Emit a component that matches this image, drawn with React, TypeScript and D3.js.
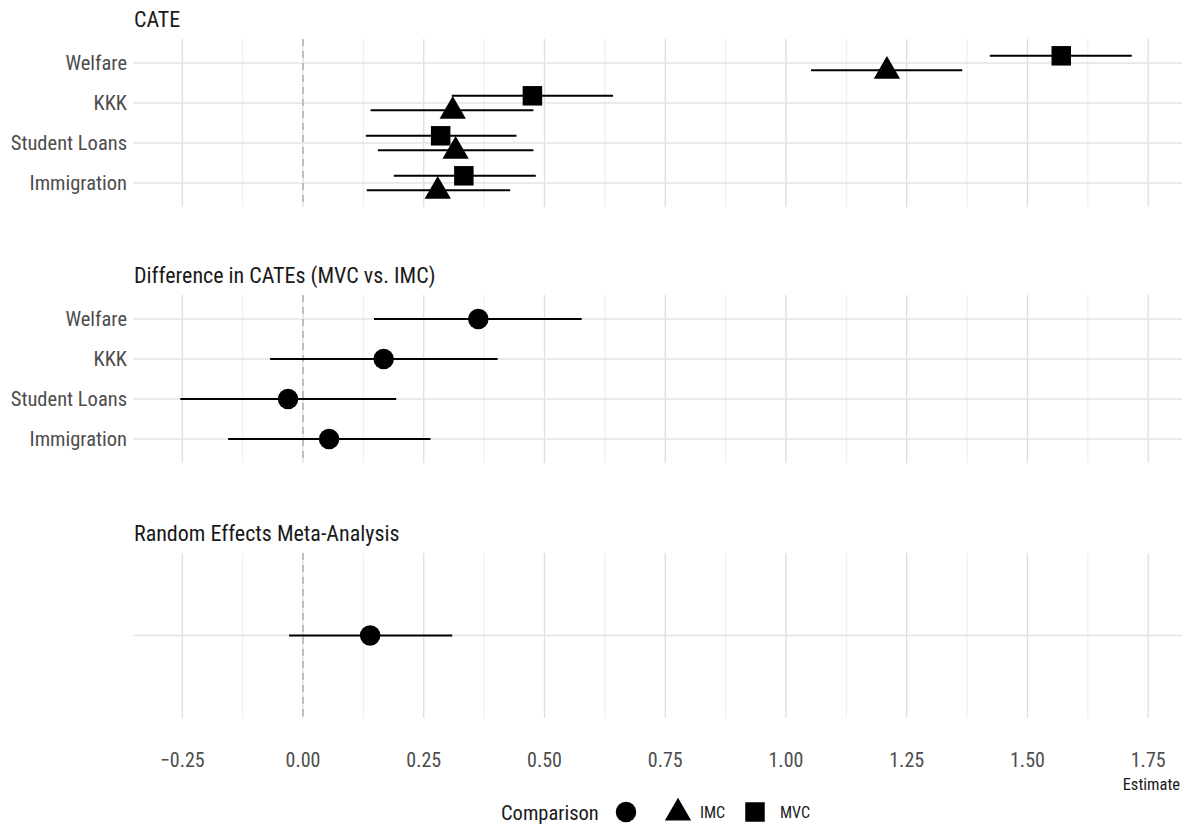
import React from "react";
import * as d3 from "d3";

const categories = ["Welfare", "KKK", "Student Loans", "Immigration"];
const comparisons = ["MVC", "IMC"];

// CATE panel
const cateMVC = [1.570, 0.475, 0.285, 0.333];
const cateMVCLow = [1.422, 0.308, 0.130, 0.188];
const cateMVCHigh = [1.716, 0.642, 0.442, 0.482];
const cateIMC = [1.209, 0.310, 0.316, 0.279];
const cateIMCLow = [1.052, 0.140, 0.155, 0.132];
const cateIMCHigh = [1.365, 0.477, 0.477, 0.429];

// Difference panel
const diffEst = [0.363, 0.167, -0.031, 0.054];
const diffLow = [0.147, -0.068, -0.254, -0.155];
const diffHigh = [0.577, 0.403, 0.193, 0.264];

// Meta-analysis
const metaEst = [0.139];
const metaLow = [-0.029];
const metaHigh = [0.309];

const xTicks = [-0.25, 0, 0.25, 0.5, 0.75, 1, 1.25, 1.5, 1.75];
const xMinor = [-0.375, -0.125, 0.125, 0.375, 0.625, 0.875, 1.125, 1.375, 1.625];

const FONT = "'Roboto Condensed', 'Liberation Sans Narrow', 'DejaVu Sans Condensed', Roboto, sans-serif";

const W = 1182;
const H = 824;
const left = 133;
const right = 1182;

const x = d3.scaleLinear().domain([-0.352, 1.82]).range([left, right]);

const symTri = d3.symbol().type(d3.symbolTriangle).size(300)();
const symSq = d3.symbol().type(d3.symbolSquare).size(380)();
const symCirc = d3.symbol().type(d3.symbolCircle).size(330)();

type Pt = { cat: string; est: number; lo: number; hi: number; shape: string };

function Panel({ title, top, bottom, cats, points, dodge }: { title: string; top: number; bottom: number; cats: string[]; points: Pt[]; dodge: boolean }) {
  const y = d3.scalePoint<string>().domain(cats).range([top, bottom]).padding(0.6);
  const step = y.step();
  const off = (s: string) => (!dodge ? 0 : s === "MVC" ? -step * 0.18 : step * 0.18);
  const shapePath = (s: string) => (s === "MVC" ? symSq : s === "IMC" ? symTri : symCirc);
  const [d0, d1] = x.domain();
  return (
    <g>
      <text x={left + 1} y={top - 12} fontFamily={FONT} fontSize={22} fill="#1a1a1a">{title}</text>
      {xMinor.filter((t) => t >= d0 && t <= d1).map((t) => (
        <line key={"mi" + t} x1={x(t)} x2={x(t)} y1={top} y2={bottom} stroke="#ececec" strokeWidth={1} />
      ))}
      {xTicks.map((t) => (
        <line key={"ma" + t} x1={x(t)} x2={x(t)} y1={top} y2={bottom} stroke="#dedede" strokeWidth={1.3} />
      ))}
      {cats.map((c) => (
        <line key={"h" + c} x1={left} x2={right} y1={y(c)} y2={y(c)} stroke="#e3e3e3" strokeWidth={1.6} />
      ))}
      {cats.map((c) =>
        c ? (
          <text key={"l" + c} x={left - 6} y={y(c)} dy="0.36em" textAnchor="end" fontFamily={FONT} fontSize={20.5} fill="#4d4d4d">{c}</text>
        ) : null
      )}
      <line x1={x(0)} x2={x(0)} y1={top} y2={bottom} stroke="#a8a8a8" strokeWidth={1.3} strokeDasharray="7,5" />
      {points.map((p, i) => {
        const yy = (y(p.cat) as number) + off(p.shape);
        return (
          <g key={"p" + i}>
            <line x1={x(p.lo)} x2={x(p.hi)} y1={yy} y2={yy} stroke="#000" strokeWidth={2} />
            <path d={shapePath(p.shape) as string} transform={`translate(${x(p.est)},${yy + (p.shape === "IMC" ? 1 : 0)})`} fill="#000" />
          </g>
        );
      })}
    </g>
  );
}

export default function App() {
  const catePts: Pt[] = [];
  categories.forEach((c, i) => {
    catePts.push({ cat: c, est: cateMVC[i], lo: cateMVCLow[i], hi: cateMVCHigh[i], shape: comparisons[0] });
    catePts.push({ cat: c, est: cateIMC[i], lo: cateIMCLow[i], hi: cateIMCHigh[i], shape: comparisons[1] });
  });
  const diffPts: Pt[] = categories.map((c, i) => ({ cat: c, est: diffEst[i], lo: diffLow[i], hi: diffHigh[i], shape: "" }));
  const metaPts: Pt[] = metaEst.map((e, i) => ({ cat: "", est: e, lo: metaLow[i], hi: metaHigh[i], shape: "" }));

  return (
    <svg width={W} height={H} style={{ position: "absolute", left: 0, top: 0, background: "#fff" }}>
      <rect width={W} height={H} fill="#fff" />
      <Panel title="CATE" top={39} bottom={207} cats={categories} points={catePts} dodge={true} />
      <Panel title="Difference in CATEs (MVC vs. IMC)" top={295} bottom={463} cats={categories} points={diffPts} dodge={false} />
      <Panel title="Random Effects Meta-Analysis" top={553} bottom={718} cats={[""]} points={metaPts} dodge={false} />
      {xTicks.map((t) => (
        <text key={"xt" + t} x={x(t)} y={767} textAnchor="middle" fontFamily={FONT} fontSize={20} fill="#4d4d4d">{d3.format(".2f")(t)}</text>
      ))}
      <text x={1180} y={790} textAnchor="end" fontFamily={FONT} fontSize={16.5} fill="#1a1a1a">Estimate</text>
      <g>
        <text x={501} y={820} fontFamily={FONT} fontSize={20.5} fill="#1a1a1a">Comparison</text>
        <path d={symCirc as string} transform="translate(626,812)" fill="#000" />
        <path d={symTri as string} transform="translate(678,813)" fill="#000" />
        <text x={700} y={818} fontFamily={FONT} fontSize={16} fill="#1a1a1a">IMC</text>
        <path d={symSq as string} transform="translate(755,812)" fill="#000" />
        <text x={780} y={818} fontFamily={FONT} fontSize={16} fill="#1a1a1a">MVC</text>
      </g>
    </svg>
  );
}
